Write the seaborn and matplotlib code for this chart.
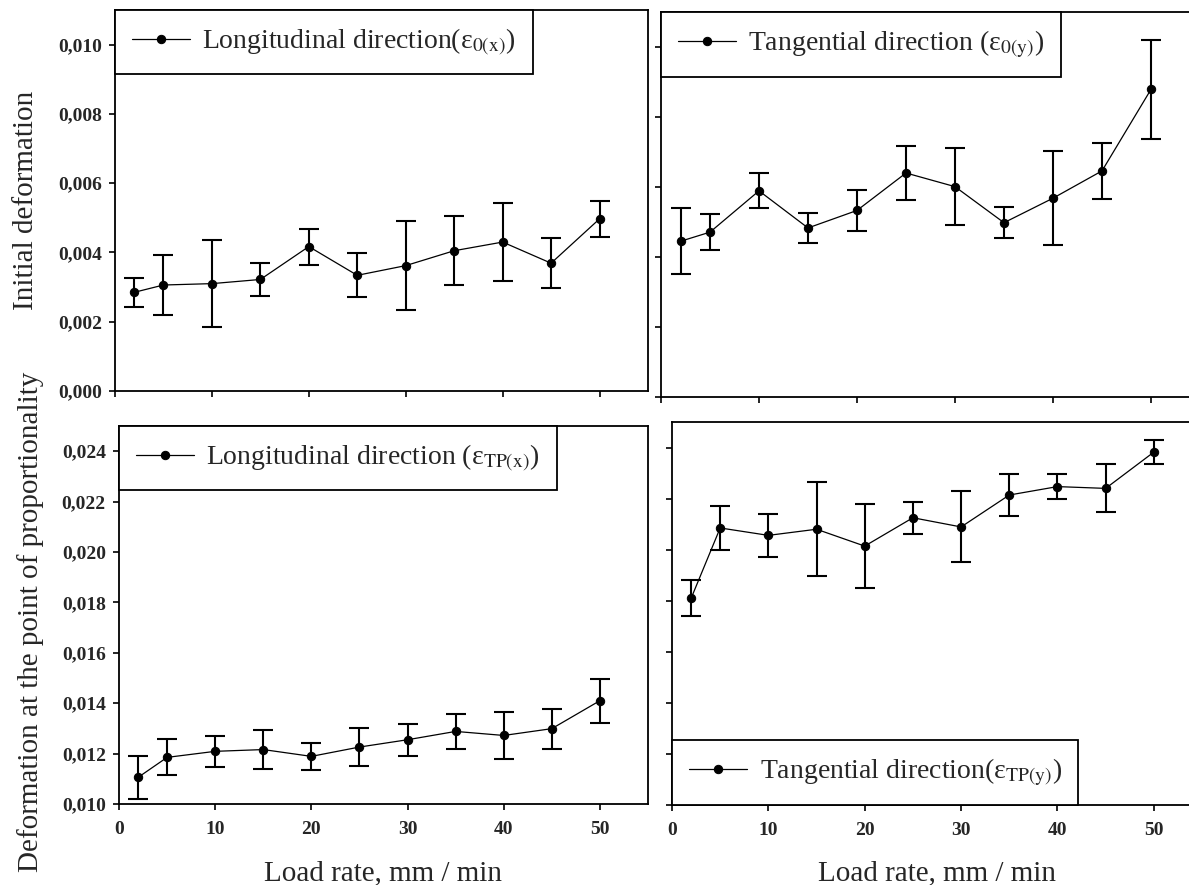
import matplotlib
matplotlib.use("Agg")
import matplotlib.pyplot as plt
import seaborn as sns
import pandas as pd

# Load rate, mm/min
load_rate = [2, 5, 10, 15, 20, 25, 30, 35, 40, 45, 50]

# Initial deformation, longitudinal direction (mean, std)
eps0_x = [0.00285, 0.00306, 0.00310, 0.00322, 0.00417, 0.00334, 0.00362, 0.00405, 0.00430, 0.00369, 0.00497]
eps0_x_err = [0.00042, 0.00087, 0.00125, 0.00047, 0.00052, 0.00063, 0.00128, 0.00099, 0.00112, 0.00072, 0.00051]

# Initial deformation, tangential direction
eps0_y = [0.00445, 0.00471, 0.00589, 0.00483, 0.00533, 0.00640, 0.00601, 0.00498, 0.00568, 0.00646, 0.00879]
eps0_y_err = [0.00094, 0.00052, 0.00050, 0.00044, 0.00058, 0.00076, 0.00109, 0.00044, 0.00135, 0.00080, 0.00142]

# Deformation at the point of proportionality, longitudinal direction
epsTP_x = [0.01106, 0.01185, 0.01209, 0.01216, 0.01189, 0.01226, 0.01255, 0.01288, 0.01272, 0.01299, 0.01410]
epsTP_x_err = [0.00085, 0.00071, 0.00061, 0.00079, 0.00054, 0.00075, 0.00063, 0.00071, 0.00095, 0.00079, 0.00087]

# Deformation at the point of proportionality, tangential direction
epsTP_y = [0.01811, 0.02085, 0.02056, 0.02080, 0.02014, 0.02125, 0.02089, 0.02214, 0.02247, 0.02240, 0.02382]
epsTP_y_err = [0.00070, 0.00085, 0.00085, 0.00185, 0.00164, 0.00062, 0.00139, 0.00082, 0.00049, 0.00094, 0.00046]

x_ticks = [0, 10, 20, 30, 40, 50]
x_tick_labels = ["0", "10", "20", "30", "40", "50"]
top_y_ticks = [0.000, 0.002, 0.004, 0.006, 0.008, 0.010]
top_y_labels = ["0,000", "0,002", "0,004", "0,006", "0,008", "0,010"]
bottom_y_ticks = [0.010, 0.012, 0.014, 0.016, 0.018, 0.020, 0.022, 0.024]
bottom_y_labels = ["0,010", "0,012", "0,014", "0,016", "0,018", "0,020", "0,022", "0,024"]

labels = {
    "tl": r"Longitudinal direction(ε$_{\mathrm{0(x)}}$)",
    "tr": r"Tangential direction (ε$_{\mathrm{0(y)}}$)",
    "bl": r"Longitudinal direction (ε$_{\mathrm{TP(x)}}$)",
    "br": r"Tangential direction(ε$_{\mathrm{TP(y)}}$)",
}

sns.set_style("ticks")
plt.rcParams["font.family"] = ["Liberation Serif", "DejaVu Serif"]
plt.rcParams["mathtext.fontset"] = "stix"
plt.rcParams["axes.linewidth"] = 1.3

W, H = 1189, 885
fig = plt.figure(figsize=(W / 100, H / 100), dpi=100)


def px_axes(left, top, right, bottom):
    return fig.add_axes([left / W, 1 - bottom / H, (right - left) / W, (bottom - top) / H])


def panel(ax, values, errors, label, ylim, yticks, ylabels, show_y, show_x, lower_legend):
    df = pd.DataFrame({"rate": load_rate, "value": values})
    ax.errorbar(load_rate, values, yerr=errors, fmt="none", ecolor="black",
                elinewidth=1.5, capsize=7, capthick=1.5, zorder=2)
    sns.lineplot(data=df, x="rate", y="value", ax=ax, color="black", linewidth=0.9,
                 marker="o", markersize=6, markeredgecolor="black", label=label, zorder=3)
    ax.set_xlim(0, 55)
    ax.set_ylim(*ylim)
    ax.set_xticks(x_ticks)
    ax.set_yticks(yticks)
    if show_x:
        ax.set_xticklabels(x_tick_labels, fontweight="bold", fontsize=14)
    else:
        ax.set_xticklabels([])
    if show_y:
        ax.set_yticklabels(ylabels, fontweight="bold", fontsize=14)
    else:
        ax.set_yticklabels([])
    ax.set_xlabel("")
    ax.set_ylabel("")
    ax.tick_params(axis="both", direction="out", length=4.5, width=1.2, color="black")
    ax.tick_params(axis="x", pad=8)
    ax.tick_params(axis="y", pad=5)
    for s in ax.spines.values():
        s.set_visible(True)
        s.set_color("black")
        s.set_linewidth(1.3)
    if lower_legend:
        loc, anchor = "lower left", (0, 0)
    else:
        loc, anchor = "upper left", (0, 1)
    leg = ax.legend(loc=loc, bbox_to_anchor=anchor, borderaxespad=0, frameon=True,
                    fancybox=False, edgecolor="black", framealpha=1, fontsize=20,
                    handlelength=2.1, handletextpad=0.45, borderpad=0.6)
    leg.get_frame().set_linewidth(1.3)


ax_tl = px_axes(115, 10, 648, 391)
ax_tr = px_axes(661, 12, 1200, 397)
ax_bl = px_axes(119, 426, 648, 804)
ax_br = px_axes(672, 422, 1202, 805)

panel(ax_tl, eps0_x, eps0_x_err, labels["tl"], (0, 0.011), top_y_ticks, top_y_labels, True, False, False)
panel(ax_tr, eps0_y, eps0_y_err, labels["tr"], (0, 0.011), top_y_ticks, top_y_labels, False, False, False)
panel(ax_bl, epsTP_x, epsTP_x_err, labels["bl"], (0.010, 0.025), bottom_y_ticks, bottom_y_labels, True, True, False)
panel(ax_br, epsTP_y, epsTP_y_err, labels["br"], (0.010, 0.025), bottom_y_ticks, bottom_y_labels, False, True, True)

fig.text(26 / W, 1 - 200 / H, "Initial deformation", rotation=90, ha="center", va="center", fontsize=21)
fig.text(31 / W, 1 - 622 / H, "Deformation at the point of proportionality", rotation=90,
         ha="center", va="center", fontsize=21)
fig.text(383 / W, 1 - 880 / H, "Load rate, mm / min", ha="center", va="baseline", fontsize=21)
fig.text(937 / W, 1 - 880 / H, "Load rate, mm / min", ha="center", va="baseline", fontsize=21)

fig.savefig("out.png", dpi=100)
